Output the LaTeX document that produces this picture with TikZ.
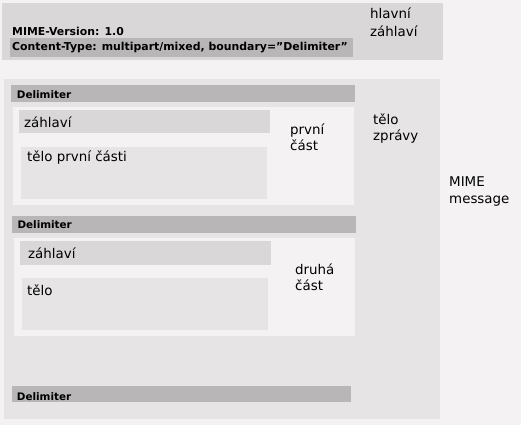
\documentclass[tikz,border=0pt]{standalone}
\usepackage{fontspec}
\setmainfont{DejaVu Sans}
\definecolor{bgc}{HTML}{F4F2F3}
\definecolor{midc}{HTML}{D9D7D8}
\definecolor{barc}{HTML}{B8B6B7}
\definecolor{bodyc}{HTML}{E6E4E5}
\begin{document}
\begin{tikzpicture}[x=1pt,y=-1pt,
  lbl/.style={inner sep=0pt, anchor=base west, align=left, font=\fontsize{13.4}{16}\selectfont},
  dlm/.style={inner sep=0pt, anchor=base west, font=\bfseries\fontsize{10.4}{12}\selectfont},
  hdrtxt/.style={inner sep=0pt, anchor=base west, font=\bfseries\fontsize{10.9}{12}\selectfont}]
\fill[bgc] (0,0) rectangle (521,425);
\useasboundingbox (0,0) rectangle (521,425);
% main header
\fill[midc] (2,3) rectangle (443,60);
\fill[barc] (10,38) rectangle (353,57);
\node[hdrtxt] (mv) at (12,36) {MIME-Version: 1.0};
\node[hdrtxt] (ct) at (12,50.5) {Content-Type: multipart/mixed, boundary=”Delimiter”};
\node[lbl, font=\fontsize{13.4}{17.7}\selectfont] (hz) at (370,36.7) {hlavní\\záhlaví};
% message body
\fill[bodyc] (4,79) rectangle (440,419);
\fill[barc] (11,85) rectangle (355,101.7);
\node[dlm] (d1) at (16.7,98.3) {Delimiter};
\fill[bgc] (13,106.7) rectangle (354,205);
\fill[midc] (19,110) rectangle (270,133.3);
\node[lbl] (z1) at (24,127) {záhlaví};
\fill[bodyc] (21,146.7) rectangle (267,199);
\node[lbl] (t1) at (27,161.7) {tělo první části};
\node[lbl] (p1) at (290,150.7) {první\\část};
\node[lbl] (tz) at (373,140.7) {tělo\\zprávy};
\node[lbl, font=\fontsize{13.4}{17}\selectfont] (mm) at (449,203) {MIME\\message};
% second part
\fill[barc] (12,216) rectangle (356,232.7);
\node[dlm] (d2) at (17.3,228.3) {Delimiter};
\fill[bgc] (14,238.3) rectangle (355,335.7);
\fill[midc] (20,241) rectangle (271,265);
\node[lbl] (z2) at (28,258) {záhlaví};
\fill[bodyc] (22,278.3) rectangle (268,330);
\node[lbl] (t2) at (27,295) {tělo};
\node[lbl] (p2) at (295,290) {druhá\\část};
% closing delimiter
\fill[barc] (12,386) rectangle (351,402);
\node[dlm] (d3) at (16.7,400) {Delimiter};
\end{tikzpicture}
\end{document}
